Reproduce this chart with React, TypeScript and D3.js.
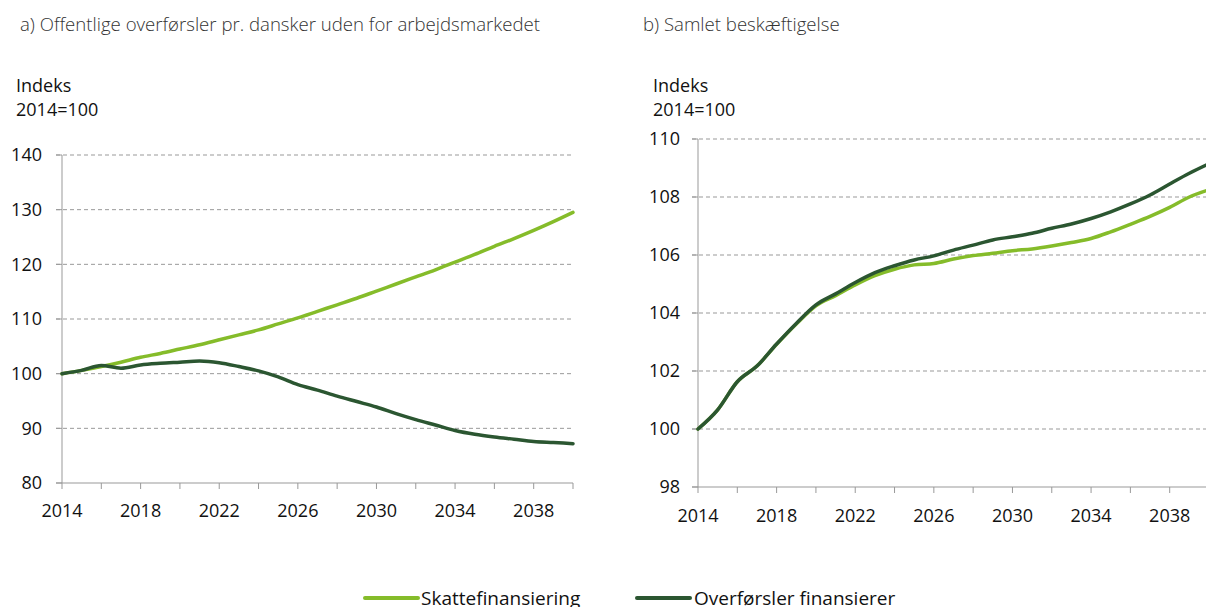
import React from "react";
import * as d3 from "d3";

const years = d3.range(2014, 2041);

const leftSkat = [100, 100.6, 101.3, 102.1, 103.0, 103.7, 104.5, 105.3, 106.2, 107.1, 108.0, 109.1, 110.2, 111.4, 112.6, 113.8, 115.1, 116.4, 117.7, 119.0, 120.4, 121.8, 123.3, 124.7, 126.2, 127.8, 129.5];
const leftOverf = [100, 100.6, 101.5, 101.0, 101.6, 101.9, 102.1, 102.3, 102.0, 101.3, 100.5, 99.4, 98.0, 97.0, 95.9, 94.9, 93.9, 92.7, 91.6, 90.6, 89.6, 88.9, 88.4, 88.0, 87.6, 87.4, 87.2];

const rightSkat = [100, 100.66, 101.63, 102.17, 102.92, 103.62, 104.25, 104.6, 104.97, 105.29, 105.51, 105.66, 105.71, 105.86, 105.98, 106.06, 106.15, 106.21, 106.31, 106.43, 106.57, 106.8, 107.06, 107.33, 107.64, 108.0, 108.25];
const rightOverf = [100, 100.66, 101.63, 102.17, 102.93, 103.64, 104.28, 104.66, 105.05, 105.39, 105.63, 105.83, 105.97, 106.17, 106.34, 106.52, 106.63, 106.75, 106.92, 107.07, 107.26, 107.49, 107.76, 108.07, 108.45, 108.82, 109.15];

const leftTicks = [80, 90, 100, 110, 120, 130, 140];
const rightTicks = [98, 100, 102, 104, 106, 108, 110];
const yearTicks = d3.range(2014, 2041, 2);
const yearLabels = [2014, 2018, 2022, 2026, 2030, 2034, 2038];

const seriesNames = ["Skattefinansiering", "Overførsler finansierer"];
const LIGHT = "#85bc2a";
const DARK = "#2b5631";
const FONT = "'Open Sans', sans-serif";

type PanelProps = {
  x0: number; x1: number; y0: number; y1: number;
  domain: [number, number]; ticks: number[];
  skat: number[]; overf: number[];
  title: string; titleX: number; unitX: number; unitY: number;
  labelRight: number; xLabelY: number;
};

function Panel(p: PanelProps) {
  const x = d3.scaleLinear().domain([2014, 2040]).range([p.x0, p.x1]);
  const y = d3.scaleLinear().domain(p.domain).range([p.y1, p.y0]);
  const line = d3.line<number>().x((_, i) => x(years[i])).y((d) => y(d)).curve(d3.curveMonotoneX);
  return (
    <g>
      <text x={p.titleX} y={31} fontSize={18.6} fill="#333" fontWeight={300} fontFamily={FONT}>{p.title}</text>
      <text x={p.unitX} y={p.unitY} fontSize={18} fill="#111" fontFamily={FONT}>Indeks</text>
      <text x={p.unitX} y={p.unitY + 24} fontSize={18} fill="#111" fontFamily={FONT}>2014=100</text>
      {p.ticks.map((t) => (
        <g key={t}>
          {t !== p.domain[0] && (
            <line x1={p.x0 - 6} x2={p.x1} y1={y(t)} y2={y(t)} stroke="#999" strokeWidth={1} strokeDasharray="4,3" />
          )}
          <line x1={p.x0 - 6} x2={p.x0} y1={y(t)} y2={y(t)} stroke="#999" strokeWidth={1} />
          <text x={p.labelRight} y={y(t)} dy="0.35em" textAnchor="end" fontSize={18} fill="#111" fontFamily={FONT}>{t}</text>
        </g>
      ))}
      <line x1={p.x0} x2={p.x0} y1={p.y0} y2={p.y1} stroke="#999" strokeWidth={1} />
      <line x1={p.x0 - 6} x2={p.x1} y1={p.y1} y2={p.y1} stroke="#999" strokeWidth={1} />
      {yearTicks.map((t) => (
        <line key={t} x1={x(t)} x2={x(t)} y1={p.y1} y2={p.y1 + 6} stroke="#999" strokeWidth={1} />
      ))}
      {yearLabels.map((t) => (
        <text key={t} x={x(t)} y={p.xLabelY} textAnchor="middle" fontSize={18} fill="#111" fontFamily={FONT}>{t}</text>
      ))}
      <path d={line(p.skat) || ""} fill="none" stroke={LIGHT} strokeWidth={3.5} strokeLinejoin="round" strokeLinecap="round" />
      <path d={line(p.overf) || ""} fill="none" stroke={DARK} strokeWidth={3.5} strokeLinejoin="round" strokeLinecap="round" />
    </g>
  );
}

export default function App() {
  return (
    <svg width={1206} height={607} style={{ position: "absolute", left: 0, top: 0, background: "#fff" }}>
      <Panel x0={62} x1={573} y0={155} y1={483} domain={[80, 140]} ticks={leftTicks}
        skat={leftSkat} overf={leftOverf}
        title="a) Offentlige overførsler pr. dansker uden for arbejdsmarkedet" titleX={20}
        unitX={16} unitY={92} labelRight={42} xLabelY={517} />
      <Panel x0={698} x1={1209} y0={139} y1={487} domain={[98, 110]} ticks={rightTicks}
        skat={rightSkat} overf={rightOverf}
        title="b) Samlet beskæftigelse" titleX={643}
        unitX={653} unitY={92} labelRight={680} xLabelY={522} />
      <g fontFamily={FONT} fontSize={19} fill="#111">
        <line x1={365} x2={418} y1={598} y2={598} stroke={LIGHT} strokeWidth={4} strokeLinecap="round" />
        <text x={421} y={605}>{seriesNames[0]}</text>
        <line x1={637} x2={690} y1={598} y2={598} stroke={DARK} strokeWidth={4} strokeLinecap="round" />
        <text x={694} y={605}>{seriesNames[1]}</text>
      </g>
    </svg>
  );
}
